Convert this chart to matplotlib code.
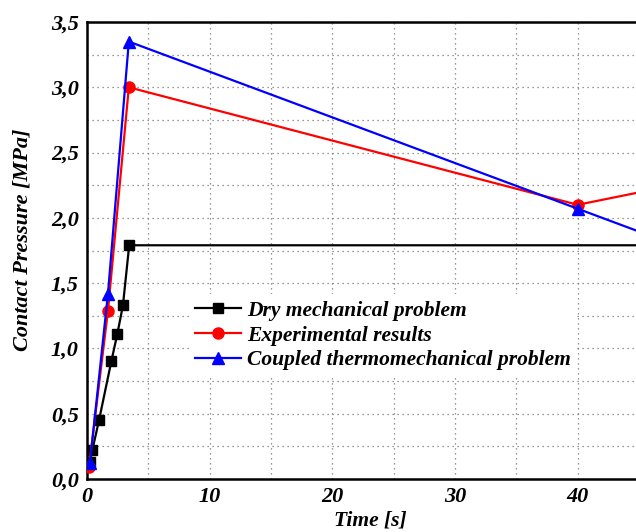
import matplotlib
matplotlib.use('Agg')
import matplotlib.pyplot as plt
from matplotlib.ticker import MultipleLocator, FuncFormatter

plt.rcParams['font.family'] = 'Liberation Serif'
plt.rcParams['font.weight'] = 'bold'
plt.rcParams['font.style'] = 'italic'
plt.rcParams['axes.labelweight'] = 'bold'

# Contact pressure vs time
t_dry = [0.24, 0.43, 0.98, 1.98, 2.47, 2.93, 3.44, 50.0]
p_dry = [0.13, 0.22, 0.45, 0.90, 1.11, 1.33, 1.79, 1.79]

t_exp = [0.16, 1.71, 3.41, 40.0, 50.0]
p_exp = [0.09, 1.29, 3.00, 2.10, 2.29]

t_cpl = [0.24, 1.71, 3.41, 40.0, 50.0]
p_cpl = [0.125, 1.42, 3.35, 2.07, 1.72]

W, H = 636, 532
fig = plt.figure(figsize=(W / 100, H / 100), dpi=100)
ax = fig.add_axes([87 / W, (H - 479) / H, (639 - 87) / W, (479 - 22) / H])

ax.plot(t_dry, p_dry, '-s', color='black', lw=1.6, ms=7, mfc='black', mec='black',
        label='Dry mechanical problem', zorder=3)
ax.plot(t_exp, p_exp, '-o', color='red', lw=1.6, ms=8, mfc='red', mec='red',
        label='Experimental results', zorder=3)
ax.plot(t_cpl, p_cpl, '-^', color='blue', lw=1.6, ms=8, mfc='blue', mec='blue',
        label='Coupled thermomechanical problem', zorder=4)

ax.set_xlim(0, 45)
ax.set_ylim(0, 3.5)
ax.xaxis.set_major_locator(MultipleLocator(10))
ax.xaxis.set_minor_locator(MultipleLocator(5))
ax.yaxis.set_major_locator(MultipleLocator(0.5))
ax.yaxis.set_minor_locator(MultipleLocator(0.25))
ax.yaxis.set_major_formatter(FuncFormatter(lambda v, pos: f'{v:.1f}'.replace('.', ',')))
ax.xaxis.set_major_formatter(FuncFormatter(lambda v, pos: f'{v:.0f}'))

ax.grid(which='both', linestyle=(0, (1, 3)), color='#777777', linewidth=0.9)
ax.tick_params(which='both', length=0, labelsize=16, pad=6)
for lbl in ax.get_xticklabels() + ax.get_yticklabels():
    lbl.set_fontweight('bold')
for s in ['left', 'bottom', 'top']:
    ax.spines[s].set_linewidth(1.8)
ax.spines['right'].set_visible(False)

ax.set_xlabel('Time [s]', fontsize=15.5, fontweight='bold')
ax.set_ylabel('Contact Pressure [MPa]', fontsize=16, fontweight='bold')
ax.xaxis.set_label_coords((370 - 87) / (639 - 87), -(521 - 479) / (479 - 22), transform=ax.transAxes)
ax.yaxis.set_label_coords(-(87 - 23) / (639 - 87), (479 - 240) / (479 - 22), transform=ax.transAxes)
ax.xaxis.label.set_va('center')
ax.yaxis.label.set_va('center')

leg = ax.legend(loc='upper left', bbox_to_anchor=(0.165, 0.428),
                prop={'size': 15.5, 'weight': 'bold', 'style': 'italic'},
                frameon=True, fancybox=False, handlelength=2.1, handletextpad=0.3,
                labelspacing=0.22, borderpad=0.3)
leg.get_frame().set_edgecolor('none')
leg.get_frame().set_facecolor('white')
leg.get_frame().set_alpha(1)

fig.savefig('out.png', dpi=100)
